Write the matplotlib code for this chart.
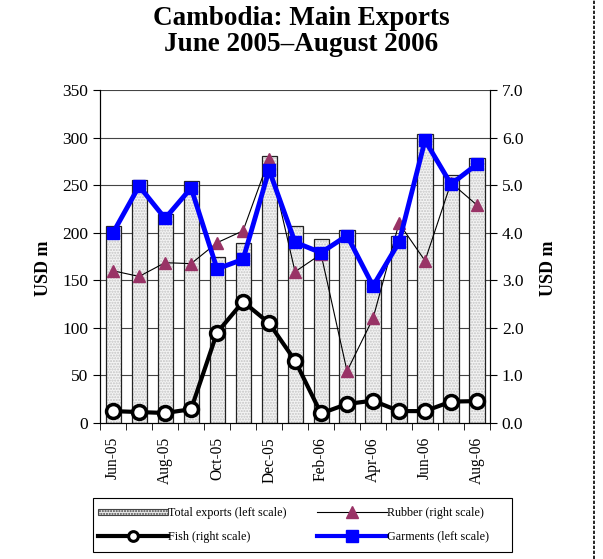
import matplotlib.pyplot as plt
import numpy as np
from matplotlib.lines import Line2D
from matplotlib.patches import Patch, Rectangle

plt.rcParams['font.family'] = ['Liberation Serif', 'DejaVu Serif']

months = ["Jun-05", "Jul-05", "Aug-05", "Sep-05", "Oct-05", "Nov-05", "Dec-05",
          "Jan-06", "Feb-06", "Mar-06", "Apr-06", "May-06", "Jun-06", "Jul-06", "Aug-06"]
total = [207, 255, 220, 254, 174, 189, 281, 207, 193, 203, 150, 197, 304, 261, 279]
garments = [200, 249, 215, 247, 162, 172, 266, 190, 179, 197, 144, 190, 297, 251, 272]
rubber = [3.20, 3.08, 3.37, 3.35, 3.79, 4.04, 5.55, 3.18, 3.55, 1.09, 2.20, 4.20, 3.41, 5.05, 4.58]
fish = [0.25, 0.23, 0.21, 0.29, 1.90, 2.55, 2.10, 1.31, 0.20, 0.40, 0.47, 0.25, 0.25, 0.45, 0.46]

x = np.arange(len(months))

fig = plt.figure(figsize=(6.03, 5.59), dpi=100)
ax = fig.add_axes([0.166, 0.2433, 0.6466, 0.5957])
ax2 = ax.twinx()

# gridlines
for v in range(50, 351, 50):
    ax.axhline(v, color='#444444', lw=0.8, zorder=0)

# bars: stippled fill, shaded outline
ax.bar(x, total, width=0.58, color='#f4f4f4', edgecolor='#c4c4c4', hatch='......', lw=0, zorder=1)
ax.bar(x, total, width=0.58, fill=False, edgecolor='#222222', lw=0.9, zorder=2)

# right-scale series on the top axes
ax2.plot(x, rubber, color='black', lw=0.8, marker='^', ms=8, mfc='#993366', mec='#993366', zorder=3)
ax2.plot(x, fish, color='black', lw=3, marker='o', ms=10, mfc='white', mec='black', mew=2.5, zorder=4)
# garments drawn in left-scale data coordinates, but on top
ax2.plot(x, garments, color='#0000ff', lw=3.5, marker='s', ms=9, zorder=5, transform=ax.transData)

ax.set_xlim(-0.5, len(months) - 0.5)
ax.set_ylim(0, 350)
ax2.set_ylim(0, 7)
ax.set_yticks(range(0, 351, 50))
ax2.set_yticks(np.arange(0, 7.1, 1.0))
ax2.set_yticklabels([f"{v:.1f}" for v in np.arange(0, 7.1, 1.0)])

ax.set_xticks(x[::2])
ax.set_xticklabels(months[::2], rotation=90)
ax.set_xticks(np.arange(-0.5, len(months), 1.0), minor=True)
ax.tick_params(axis='x', which='major', length=0, labelsize=11.2, pad=10)
ax.tick_params(axis='x', which='minor', length=5, direction='out')
ax.tick_params(axis='y', labelsize=12.5, direction='out', length=5)
ax2.tick_params(axis='y', labelsize=12.5, direction='out', length=5)

for a in (ax, ax2):
    a.spines['top'].set_visible(False)

ax.set_ylabel("USD m", fontsize=13, fontweight='bold')
ax.yaxis.set_label_coords(-0.124, 0.465)
ax2.set_ylabel("USD m", fontsize=13, fontweight='bold')
ax2.yaxis.set_label_coords(1.128, 0.465)

fig.text(0.5, 0.99, "Cambodia: Main Exports\nJune 2005\u2013August 2006", ha='center', va='top',
         fontsize=19.5, fontweight='bold', linespacing=1.05)

handles = [
    Patch(facecolor='#ececec', edgecolor='#444444', lw=0.8, hatch='......'),
    Line2D([], [], color='black', lw=3, marker='o', ms=7, mfc='white', mec='black', mew=2.2),
    Line2D([], [], color='black', lw=0.8, marker='^', ms=8, mfc='#993366', mec='#993366'),
    Line2D([], [], color='#0000ff', lw=3, marker='s', ms=8),
]
labels = ["Total exports (left scale)", "Fish (right scale)",
          "Rubber (right scale)", "Garments (left scale)"]
leg = fig.legend(handles, labels, loc='upper left', bbox_to_anchor=(0.1625, 0.0925), ncol=2,
                 fontsize=8.7, frameon=False, borderpad=0, borderaxespad=0,
                 handlelength=5.8, handleheight=0.5, handletextpad=0.0, columnspacing=2.55,
                 labelspacing=0.95)

# legend box
fig.add_artist(Rectangle((0.1542, 0.0125), 0.6948, 0.0966, transform=fig.transFigure,
                         fill=False, edgecolor='black', lw=0.8))

fig.add_artist(Line2D([0.985, 0.985], [0, 1], transform=fig.transFigure,
                      color='black', lw=1.2, ls=(0, (2, 1))))

fig.savefig("out.png", dpi=100)
